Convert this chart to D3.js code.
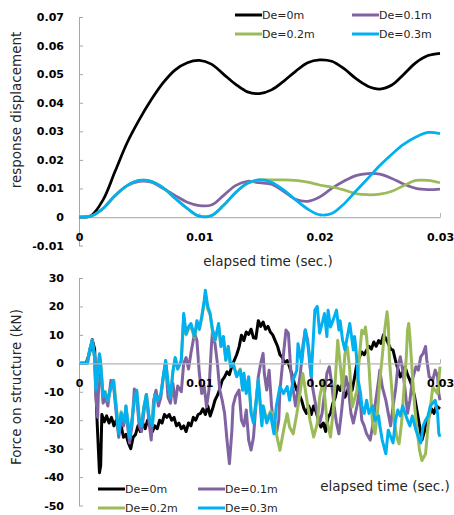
<!DOCTYPE html>
<html>
  <head>
    <meta charset="utf-8">
    <title>response displacement / force on structure</title>
    <script src="https://cdnjs.cloudflare.com/ajax/libs/d3/7.8.5/d3.min.js"></script>
    <style>
      body { margin: 0; background-color: #FFF }
      svg { display: block; background-color: #FFF }
      .tick text { font-family: "DejaVu Sans", sans-serif; font-weight: bold; font-size: 11px; fill: #000 }
      .title { font-family: "DejaVu Sans", sans-serif; font-size: 13.5px; fill: #262626 }
      .leg { font-family: "DejaVu Sans", sans-serif; font-size: 11px; fill: #262626 }
    </style>
  </head>
  <body>
    <svg width="454" height="515"></svg>
    <script>
      // series names and colours
      var seriesNames = ["De=0m", "De=0.1m", "De=0.2m", "De=0.3m"];
      var seriesColors = ["#000000", "#8064A2", "#9BBB59", "#00B0F0"];

      // top chart: displacement, one value per 0.001 s
      var timeTop = [0, 0.001, 0.002, 0.003, 0.004, 0.005, 0.006, 0.007, 0.008, 0.009, 0.010,
                     0.011, 0.012, 0.013, 0.014, 0.015, 0.016, 0.017, 0.018, 0.019, 0.020,
                     0.021, 0.022, 0.023, 0.024, 0.025, 0.026, 0.027, 0.028, 0.029, 0.030];
      var dispDe0 = [0, 0.0005, 0.006, 0.016, 0.026, 0.034, 0.041, 0.047, 0.0515, 0.054, 0.0548,
                     0.0535, 0.050, 0.0465, 0.0438, 0.0432, 0.0445, 0.0475, 0.051, 0.054, 0.055,
                     0.0545, 0.052, 0.0485, 0.0458, 0.0448, 0.0462, 0.050, 0.054, 0.0565, 0.0573];
      var dispDe01 = [0, 0.0003, 0.003, 0.0075, 0.011, 0.0125, 0.0122, 0.010, 0.0075, 0.0052, 0.0040,
                      0.0042, 0.0075, 0.011, 0.0125, 0.012, 0.0115, 0.0090, 0.0062, 0.0055, 0.0070,
                      0.0100, 0.0125, 0.0145, 0.0152, 0.015, 0.0135, 0.0115, 0.0100, 0.0096, 0.0098];
      var dispDe02 = [0, 0.0003, 0.003, 0.0075, 0.011, 0.0128, 0.0125, 0.0102, 0.0065, 0.003, 0.0003,
                      0.0005, 0.004, 0.0085, 0.0118, 0.013, 0.0130, 0.0130, 0.0128, 0.0122, 0.0112,
                      0.0105, 0.0095, 0.0082, 0.0078, 0.0080, 0.0090, 0.0110, 0.0128, 0.0128, 0.0120];
      var dispDe03 = [0, 0.0003, 0.003, 0.0075, 0.011, 0.0128, 0.0125, 0.0102, 0.0065, 0.003, 0.0003,
                      0.0005, 0.004, 0.0085, 0.0118, 0.013, 0.0122, 0.0095, 0.006, 0.0028, 0.0008,
                      0.0012, 0.0045, 0.009, 0.0135, 0.018, 0.022, 0.0255, 0.028, 0.0296, 0.0292];
      var dispTicks = [-0.01, 0, 0.01, 0.02, 0.03, 0.04, 0.05, 0.06, 0.07];

      // bottom chart: force [time, kN]
      var forceDe0 = [[0,0],[0.0006,0],[0.0009,4],[0.0011,8.3],[0.0013,5],[0.0015,-20],[0.0017,-38.5],[0.0018,-36],
        [0.0019,-18],[0.0021,-20.6],[0.0023,-18.5],[0.0025,-21],[0.0027,-19],[0.0029,-22],[0.0031,-20],[0.0033,-24],
        [0.0035,-22],[0.0037,-26],[0.0039,-25],[0.0041,-28],[0.0043,-30],[0.0045,-26],[0.0047,-25],[0.0049,-22],
        [0.0051,-24],[0.0053,-21],[0.0055,-23],[0.0057,-20],[0.0059,-22],[0.0061,-24],[0.0063,-22],[0.0065,-23],
        [0.0067,-20],[0.0069,-21],[0.0071,-18],[0.0073,-19],[0.0075,-18],[0.0077,-20],[0.0079,-19],[0.0081,-22],
        [0.0083,-21],[0.0085,-23],[0.0087,-22],[0.0089,-24],[0.0091,-21],[0.0093,-22],[0.0095,-19],[0.0097,-20],
        [0.0099,-18],[0.0101,-17.6],[0.0103,-16],[0.0105,-18],[0.0107,-15],[0.0109,-18.5],[0.0111,-16],[0.0113,-13],
        [0.0115,-11.3],[0.0117,-9],[0.0119,-6],[0.0121,-4.8],[0.0123,-3],[0.0125,-4],[0.0127,-1],[0.0129,1],
        [0.0131,3],[0.0133,5.7],[0.0135,9.9],[0.0137,8],[0.0139,11],[0.0141,10.2],[0.0143,12],[0.0145,9],
        [0.0147,8.8],[0.0149,15],[0.0151,13],[0.0153,14.5],[0.0155,12],[0.0157,13],[0.0159,11],[0.0161,10],
        [0.0163,8],[0.0165,6],[0.0167,3],[0.0169,2],[0.0171,0],[0.0173,1],[0.0175,-1.3],[0.0177,-4],
        [0.0179,-7],[0.0181,-9.5],[0.0183,-11],[0.0185,-13],[0.0187,-16],[0.0189,-17.6],[0.0191,-15],[0.0193,-18],
        [0.0195,-15],[0.0197,-17],[0.0199,-20],[0.0201,-22.4],[0.0203,-21],[0.0205,-24],[0.0207,-19],[0.0209,-17.6],
        [0.0211,-14],[0.0213,-12],[0.0215,-8],[0.0217,-9.5],[0.0219,-7],[0.0221,-11.9],[0.0223,-10],[0.0225,-7],
        [0.0227,-9.5],[0.0229,-5],[0.0231,0],[0.0233,2.2],[0.0235,4],[0.0237,3],[0.0239,4.6],[0.0241,6],
        [0.0243,5],[0.0245,7.5],[0.0247,6],[0.0249,8],[0.0251,7],[0.0253,10],[0.0255,8.8],[0.0257,7],
        [0.0259,5],[0.0261,4.6],[0.0263,1],[0.0265,-2],[0.0267,-4.8],[0.0269,-3],[0.0271,-1.3],[0.0273,-4],
        [0.0275,-6],[0.0277,-8.3],[0.0279,-12],[0.0281,-17],[0.0283,-22],[0.0285,-27],[0.0287,-24],[0.0289,-20],
        [0.0291,-18.5],[0.0293,-16],[0.0295,-17.6],[0.0297,-15],[0.0300,-16]];
      var forceDe01 = [[0,0],[0.0007,0],[0.0009,5],[0.0011,8],[0.0013,2],[0.0014,-12],[0.00155,-19],[0.0017,2],
        [0.0018,-2],[0.002,-14],[0.0022,-12],[0.0024,-15],[0.00265,-6],[0.0029,-9],[0.0031,-18],[0.0033,-26],
        [0.0035,-20],[0.0037,-22],[0.0039,-17],[0.0042,-28],[0.0044,-22],[0.0046,-9],[0.0048,-12],[0.0050,-22],
        [0.0052,-24],[0.0054,-17],[0.0056,-11],[0.0058,-20],[0.0060,-27],[0.0062,-13],[0.0064,-9.5],[0.0066,-15],
        [0.0068,-12],[0.0070,-5],[0.0072,0],[0.0074,-12],[0.0076,-14],[0.0078,-7],[0.0080,-14],[0.0082,-8],
        [0.0085,-10],[0.0087,0],[0.0089,2],[0.0091,-2],[0.0093,3.5],[0.0096,10.6],[0.0098,8],[0.0100,-3.5],
        [0.0102,-10.6],[0.0104,-8],[0.0106,-15.3],[0.0108,-9.4],[0.0110,5.9],[0.0111,11.7],[0.0113,7],[0.0115,0],
        [0.0117,-9.4],[0.0119,-13],[0.0121,-17.6],[0.0123,-27],[0.0125,-35.3],[0.0127,-24],[0.0128,-15],[0.0130,-11.7],
        [0.0133,-9.4],[0.0135,-20],[0.0137,-22],[0.0139,-16.4],[0.0141,-27],[0.0143,-30.5],[0.0145,-26],[0.0147,-15],
        [0.0149,-4.7],[0.0151,0],[0.0153,3.5],[0.0154,-3.5],[0.0156,-9.4],[0.0158,-2.4],[0.0160,-15],[0.0162,-22],
        [0.0164,-24.8],[0.0166,-20],[0.0167,-9.4],[0.0170,3.5],[0.0172,11.7],[0.0174,10.6],[0.0176,-2.4],[0.0178,-9.4],
        [0.0180,-15],[0.0182,-9.4],[0.0184,-3.5],[0.0186,5.9],[0.0188,11.7],[0.0190,8.2],[0.0192,-1.2],[0.0194,-8.2],
        [0.0196,-13],[0.0198,-17.6],[0.0200,-21],[0.0202,-17.6],[0.0204,-10.6],[0.0206,-3.5],[0.0208,-1.2],[0.0210,-7],
        [0.0212,-15],[0.0214,-21],[0.0216,-24.8],[0.0218,-17.6],[0.0220,-9.4],[0.0222,-4.7],[0.0224,-9.4],[0.0226,-17.6],
        [0.0228,-21],[0.0231,-15],[0.0233,-9.4],[0.0235,-20],[0.0237,-22],[0.0239,-24.8],[0.0242,-27],[0.0244,-22],
        [0.0246,-15],[0.0249,-5.9],[0.0250,-2.4],[0.0252,-8.2],[0.0255,-13],[0.0257,-17.6],[0.0259,-22],[0.0261,-15],
        [0.0263,-9.4],[0.0265,-1.2],[0.0267,2.3],[0.0269,-2.4],[0.0271,-9.4],[0.0273,-17.6],[0.0275,-13],[0.0277,-5.9],
        [0.0280,-1.2],[0.0282,-2.4],[0.0284,2.3],[0.0286,3.5],[0.0288,5.9],[0.0289,1.2],[0.0291,-4.7],[0.0294,-5.9],
        [0.0296,-2.4],[0.0298,-4.7],[0.0299,-10.6],[0.0300,-13]];
      var forceDe02 = [[0,0],[0.0007,0],[0.0009,5],[0.0011,8],[0.0013,2],[0.0014,-9],[0.0015,-6],[0.0017,3],
        [0.0018,0],[0.002,-11],[0.0022,-10],[0.0024,-13],[0.0027,-8],[0.0029,-6],[0.0031,-15],[0.0033,-24],
        [0.0035,-17],[0.0038,-20],[0.0039,-15],[0.0042,-25],[0.0044,-20],[0.0046,-13],[0.0048,-10],[0.005,-19],
        [0.0052,-21],[0.0054,-15],[0.0056,-11],[0.0058,-18],[0.0061,-21],[0.0063,-11],[0.0065,-13],[0.0068,-11],
        [0.007,-5],[0.0072,1],[0.0074,-7],[0.0076,-12],[0.0078,-3],[0.008,2],[0.0082,-2],[0.0085,1],
        [0.0087,16],[0.0089,10],[0.0091,12],[0.0093,13],[0.0096,9],[0.0098,14],[0.01,12],[0.0102,16],
        [0.0104,21],[0.0105,24],[0.0107,19],[0.0109,17],[0.0111,11],[0.0113,8],[0.0116,13],[0.0118,6],
        [0.012,9],[0.0122,1],[0.0124,6],[0.0126,-1],[0.0128,0],[0.0131,-4],[0.0134,-2],[0.0136,-9],
        [0.0137,-4],[0.0139,-10],[0.0141,-5],[0.0143,-17],[0.0145,-20],[0.0147,-14],[0.0149,-6],[0.0152,-21],
        [0.0153,-15],[0.0156,-20],[0.0159,-17],[0.0162,-17.7],[0.0164,-24.8],[0.0167,-30.6],[0.0170,-23.6],[0.0173,-17.7],
        [0.0175,-22.4],[0.0178,-24.8],[0.0181,-17.7],[0.0184,-9.5],[0.0186,-3.6],[0.0189,-11.9],[0.0192,-20.1],[0.0195,-25.9],
        [0.0198,-21.2],[0.0200,-11.9],[0.0203,-5.9],[0.0206,-20.1],[0.0209,-25.9],[0.0211,-17.7],[0.0213,-5.9],[0.0215,8.1],
        [0.0217,0],[0.0219,-9.5],[0.0221,3.4],[0.0223,5.8],[0.0225,-2.4],[0.0227,-15.4],[0.0231,-9.5],[0.0233,2.3],
        [0.0235,11.6],[0.0237,10.4],[0.0238,12.8],[0.0239,9.3],[0.0241,-1.2],[0.0243,-15.4],[0.0244,-21.2],[0.0246,-24.8],
        [0.0248,-17.7],[0.0250,-5.9],[0.0252,2.3],[0.0254,11.6],[0.0256,18.1],[0.0257,14],[0.0258,1.1],[0.0260,-9.5],
        [0.0262,-20.1],[0.0264,-25.9],[0.0266,-28.3],[0.0268,-21.2],[0.0270,-9.5],[0.0272,2.3],[0.0273,11.6],[0.0274,14],
        [0.0275,9.3],[0.0277,-3.6],[0.0279,-15.4],[0.0281,-23.6],[0.0283,-30.6],[0.0285,-34.2],[0.0288,-31.8],[0.0290,-22.4],
        [0.0292,-15.4],[0.0294,-8.3],[0.0296,-9.5],[0.0298,-10.7],[0.0299,-5.9],[0.0300,-1.2]];
      var forceDe03 = [[0,0],[0.0007,0],[0.0009,5],[0.0011,8.1],[0.0013,2],[0.0014,-9.4],[0.0015,-6],[0.0017,3.4],
        [0.0018,0],[0.002,-11.7],[0.0021,-10],[0.0024,-13],[0.00266,-8.2],[0.00285,-6],[0.00308,-15.4],[0.0033,-24.8],
        [0.0035,-17.6],[0.00377,-20.6],[0.0039,-15],[0.0042,-26],[0.0044,-20],[0.0046,-13],[0.0048,-9.5],[0.0050,-20],
        [0.0052,-22],[0.0054,-15.4],[0.0056,-11],[0.0058,-18.5],[0.0061,-22],[0.0063,-11],[0.0065,-13],[0.0068,-11],
        [0.0070,-4.7],[0.0072,1],[0.0074,-7],[0.0076,-12],[0.0078,-3],[0.0080,2],[0.0082,-2],[0.0085,1],
        [0.0087,17.5],[0.0089,10.4],[0.0091,12.8],[0.0093,14],[0.0096,9.4],[0.0098,15],[0.0100,12],[0.0102,16.4],
        [0.0104,22],[0.0105,25.7],[0.0107,20],[0.0109,17.5],[0.0111,11.7],[0.0113,8.2],[0.0116,14],[0.0118,5.9],
        [0.0120,9.4],[0.0122,1.2],[0.0124,5.9],[0.0126,-1.2],[0.0128,0],[0.0131,-4.7],[0.0134,-2.4],[0.0136,-9.5],
        [0.0137,-3.5],[0.0139,-10.6],[0.0141,-4.7],[0.0143,-17.6],[0.0145,-21],[0.0147,-14],[0.0149,-5.9],[0.0152,-22],
        [0.0153,-15],[0.0156,-21],[0.0159,-17.6],[0.0162,-24.8],[0.0164,-15],[0.0167,-8.2],[0.0170,-10.6],[0.0173,-8.2],
        [0.0175,-13],[0.0178,-5.9],[0.0181,-2.4],[0.0182,6.9],[0.0185,0],[0.0188,11.7],[0.0191,4.7],[0.0193,-4.7],
        [0.0196,18.7],[0.0198,20],[0.0200,10.6],[0.0202,14],[0.0204,17.5],[0.0206,9.4],[0.0207,18.7],[0.0209,12.8],
        [0.0211,15],[0.0214,18.7],[0.0216,11.7],[0.0217,15],[0.0219,8.2],[0.0221,4.7],[0.0223,9.4],[0.0225,14],
        [0.0228,4.7],[0.0229,9.4],[0.0230,5.9],[0.0232,-5.9],[0.0234,-10.6],[0.0235,-15],[0.0237,-17.6],[0.0239,-13],
        [0.0241,-17.6],[0.0244,-15],[0.0246,-20],[0.0249,-18.5],[0.0250,-22],[0.0252,-27],[0.0255,-31.8],[0.0257,-23.5],
        [0.0259,-25.8],[0.0261,-28],[0.0263,-20],[0.0265,-16.4],[0.0267,-18.5],[0.0269,-15],[0.0271,-17.6],[0.0273,-20],
        [0.0275,-22],[0.0277,-18.5],[0.0280,-23.5],[0.0282,-26],[0.0284,-28],[0.0286,-22],[0.0288,-20],[0.0290,-18.5],
        [0.0292,-15],[0.0294,-14],[0.0296,-13],[0.0298,-17.6],[0.0299,-24.7],[0.0300,-25.8]];
      var forceTicks = [-50, -40, -30, -20, -10, 0, 10, 20, 30];
      var timeTicks = [0, 0.01, 0.02, 0.03];

      var svg = d3.select("svg");

      //ESCALAS
      var x = d3.scaleLinear().domain([0, 0.03]).range([79, 440]);
      var yTop = d3.scaleLinear().domain([-0.01, 0.07]).range([245.6, 17]);
      var yBot = d3.scaleLinear().domain([-50, 30]).range([505.5, 278]);

      function drawAxes(y, yTicks, yFmt) {
        var ya = svg.append("g").attr("transform", "translate(79,0)")
          .call(d3.axisLeft(y).tickValues(yTicks).tickFormat(yFmt)
            .tickSizeInner(-4).tickSizeOuter(0).tickPadding(15));
        ya.select(".domain").attr("stroke", "#a6a6a6");
        ya.selectAll("line").attr("stroke", "#a6a6a6");
        var xa = svg.append("g").attr("transform", "translate(0," + y(0) + ")")
          .call(d3.axisBottom(x).tickValues(timeTicks)
            .tickFormat(function(d) { return d === 0 ? "0" : d.toFixed(2); })
            .tickSizeInner(-4).tickSizeOuter(0).tickPadding(16));
        xa.select(".domain").attr("stroke", "#b4b4b4").attr("stroke-width", 1.3);
        xa.selectAll("line").attr("stroke", "#b4b4b4");
        return xa;
      }

      // top chart
      drawAxes(yTop, dispTicks, function(d) { return d === 0 ? "0" : d.toFixed(2); });
      var dispSeries = [dispDe0, dispDe01, dispDe02, dispDe03];
      var lineTop = d3.line().curve(d3.curveCatmullRom)
        .x(function(d, i) { return x(timeTop[i]); })
        .y(function(d) { return yTop(d); });
      svg.append("g").selectAll("path").data(dispSeries).enter().append("path")
        .attr("d", lineTop)
        .attr("fill", "none")
        .attr("stroke", function(d, i) { return seriesColors[i]; })
        .attr("stroke-width", 2.75)
        .attr("stroke-linejoin", "round");

      // bottom chart
      var xaBot = drawAxes(yBot, forceTicks, function(d) { return d; });
      var forceSeries = [forceDe0, forceDe01, forceDe02, forceDe03];
      var lineBot = d3.line()
        .x(function(d) { return x(d[0]); })
        .y(function(d) { return yBot(d[1]); });
      svg.append("g").selectAll("path").data(forceSeries).enter().append("path")
        .attr("d", lineBot)
        .attr("fill", "none")
        .attr("stroke", function(d, i) { return seriesColors[i]; })
        .attr("stroke-width", 3)
        .attr("stroke-linejoin", "round");
      // labels of the time axis sit over the lines
      svg.node().appendChild(xaBot.node());

      // axis titles
      svg.append("text").attr("class", "title").attr("x", 268).attr("y", 266)
        .attr("text-anchor", "middle").text("elapsed time (sec.)");
      svg.append("text").attr("class", "title").attr("x", 385).attr("y", 491)
        .attr("text-anchor", "middle").text("elapsed time (sec.)");
      svg.append("text").attr("class", "title")
        .attr("transform", "translate(21,110) rotate(-90)")
        .attr("text-anchor", "middle").text("response displacement");
      svg.append("text").attr("class", "title")
        .attr("transform", "translate(21,387) rotate(-90)")
        .attr("text-anchor", "middle").text("Force on structure (kN)");

      // legends
      function legend(x0, x1, y0, y1) {
        var cols = [x0, x1], rows = [y0, y1];
        seriesNames.forEach(function(name, i) {
          var lx = cols[i % 2], ly = rows[Math.floor(i / 2)];
          svg.append("line").attr("x1", lx).attr("x2", lx + 27).attr("y1", ly).attr("y2", ly)
            .attr("stroke", seriesColors[i]).attr("stroke-width", 3);
          svg.append("text").attr("class", "leg").attr("x", lx + 27).attr("y", ly + 4).text(name);
        });
      }
      legend(235, 352, 15, 34);
      legend(98, 198, 489, 508);
    </script>
  </body>
</html>
